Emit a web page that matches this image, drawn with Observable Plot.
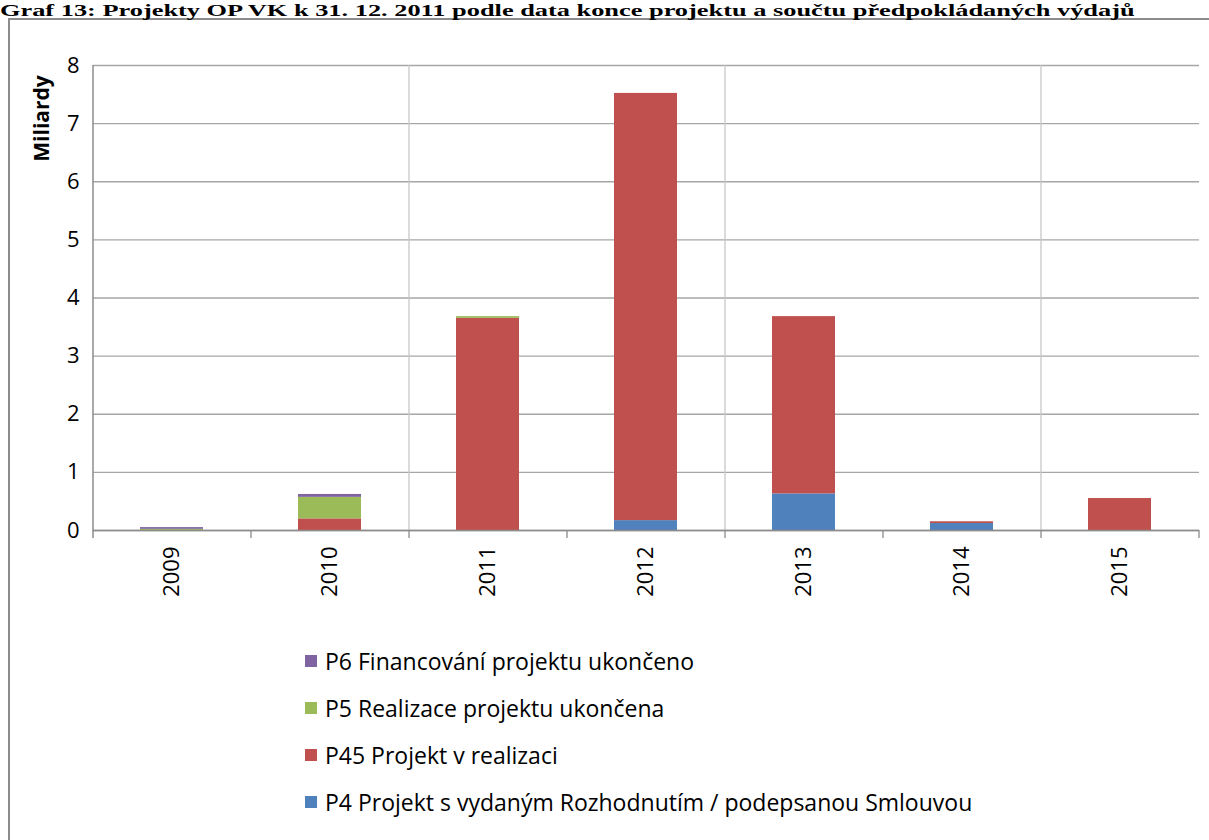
<!DOCTYPE html>
<html>
<head>
<meta charset="utf-8">
<script src="https://cdn.jsdelivr.net/npm/d3@7"></script>
<script src="https://cdn.jsdelivr.net/npm/@observablehq/plot@0.6"></script>
<style>
  html, body { margin: 0; padding: 0; background: #fff; overflow: hidden; }
  #wrap { position: relative; width: 1209px; height: 840px; overflow: hidden; }
  #title { position: absolute; left: 0; top: 1px; font-family: "Liberation Serif", "Times New Roman", serif; font-weight: bold; font-size: 17px; line-height: 19px; white-space: nowrap; color: #000; transform-origin: left top; transform: scaleX(1.55); }
  #frame { position: absolute; left: 8px; top: 18px; width: 1300px; height: 900px; border: 2px solid #8c8c8c; box-sizing: border-box; }
  #chart { position: absolute; left: 0; top: 0; }
  #legend { position: absolute; left: 305px; top: 644px; font-family: "Open Sans", sans-serif; font-size: 23px; color: #000; }
  .item { display: flex; align-items: center; height: 34px; margin-bottom: 13px; }
  .sw { width: 12px; height: 12px; margin-right: 8px; }
</style>
</head>
<body>
<div id="wrap">
  <div id="frame"></div>
  <div id="title">Graf 13: Projekty OP VK k 31. 12. 2011 podle data konce projektu a součtu předpokládaných výdajů</div>
  <div id="chart"></div>
  <div id="legend"></div>
</div>
<script>
const years = ["2009", "2010", "2011", "2012", "2013", "2014", "2015"];
const seriesNames = [
  "P4 Projekt s vydaným Rozhodnutím / podepsanou Smlouvou",
  "P45 Projekt v realizaci",
  "P5 Realizace projektu ukončena",
  "P6 Financování projektu ukončeno"
];
const seriesColors = ["#4F81BD", "#C0504D", "#9BBB59", "#8064A2"];
// values in billions (Miliardy), per year
const p4  = [0,    0,    0,    0.17, 0.63, 0.12, 0];
const p45 = [0,    0.20, 3.65, 7.35, 3.05, 0.03, 0.55];
const p5  = [0.02, 0.37, 0.03, 0,    0,    0,    0];
const p6  = [0.03, 0.05, 0,    0,    0,    0,    0];
const yTicks = [0, 1, 2, 3, 4, 5, 6, 7, 8];
const yTitle = "Miliardy";

const seriesValues = [p4, p45, p5, p6];
const data = [];
seriesNames.forEach((s, si) => {
  years.forEach((y, yi) => data.push({year: y, series: s, value: seriesValues[si][yi]}));
});

const W = 1209, H = 640;
const mL = 93, mR = 10, mT = 65, mB = 110;
const step = (W - mL - mR) / years.length;
const gridYears = ["2010", "2012", "2014"];

const chart = Plot.plot({
  width: W, height: H,
  marginLeft: mL, marginRight: mR, marginTop: mT, marginBottom: mB,
  style: {fontFamily: "'Open Sans', sans-serif", fontSize: "20px", color: "#000", background: "transparent"},
  x: {domain: years, paddingInner: 0.6, paddingOuter: 0.3, label: null, axis: null},
  y: {domain: [0, 8], label: null, axis: null},
  color: {domain: seriesNames, range: seriesColors},
  marks: [
    Plot.ruleY(yTicks, {stroke: "#a6a6a6", strokeWidth: 1.3}),
    Plot.ruleY(yTicks, {x1: years[0], x2: years[0], dx: -step / 2, insetLeft: -8, stroke: "#a6a6a6", strokeWidth: 1.3}),
    Plot.ruleX(gridYears, {dx: step / 2, stroke: "#c8c8c8", strokeWidth: 1.3}),
    Plot.barY(data, {x: "year", y: "value", fill: "series", order: seriesNames}),
    Plot.ruleY([0], {stroke: "#8c8c8c", strokeWidth: 1.5}),
    Plot.ruleX(years, {y1: 0, y2: 0, dx: step / 2, insetBottom: -8, stroke: "#8c8c8c", strokeWidth: 1.3}),
    Plot.ruleX([years[0]], {dx: -step / 2, insetBottom: -8, stroke: "#8c8c8c", strokeWidth: 1.5}),
    Plot.axisY({ticks: yTicks, tickSize: 0, tickPadding: 14, tickFormat: d => String(d), fontSize: 22, label: null}),
    Plot.axisX({tickSize: 0, tickPadding: 16, tickRotate: -90, fontSize: 22, label: null}),
    Plot.text([yTitle], {frameAnchor: "top-left", dx: -59, dy: 53, rotate: -90, fontWeight: "bold", fontSize: 21, textAnchor: "middle"})
  ]
});
document.getElementById("chart").appendChild(chart);

const legend = document.getElementById("legend");
[...seriesNames].reverse().forEach((s) => {
  const i = seriesNames.indexOf(s);
  const d = document.createElement("div");
  d.className = "item";
  d.innerHTML = `<span class="sw" style="background:${seriesColors[i]}"></span><span>${s}</span>`;
  legend.appendChild(d);
});
</script>
</body>
</html>
